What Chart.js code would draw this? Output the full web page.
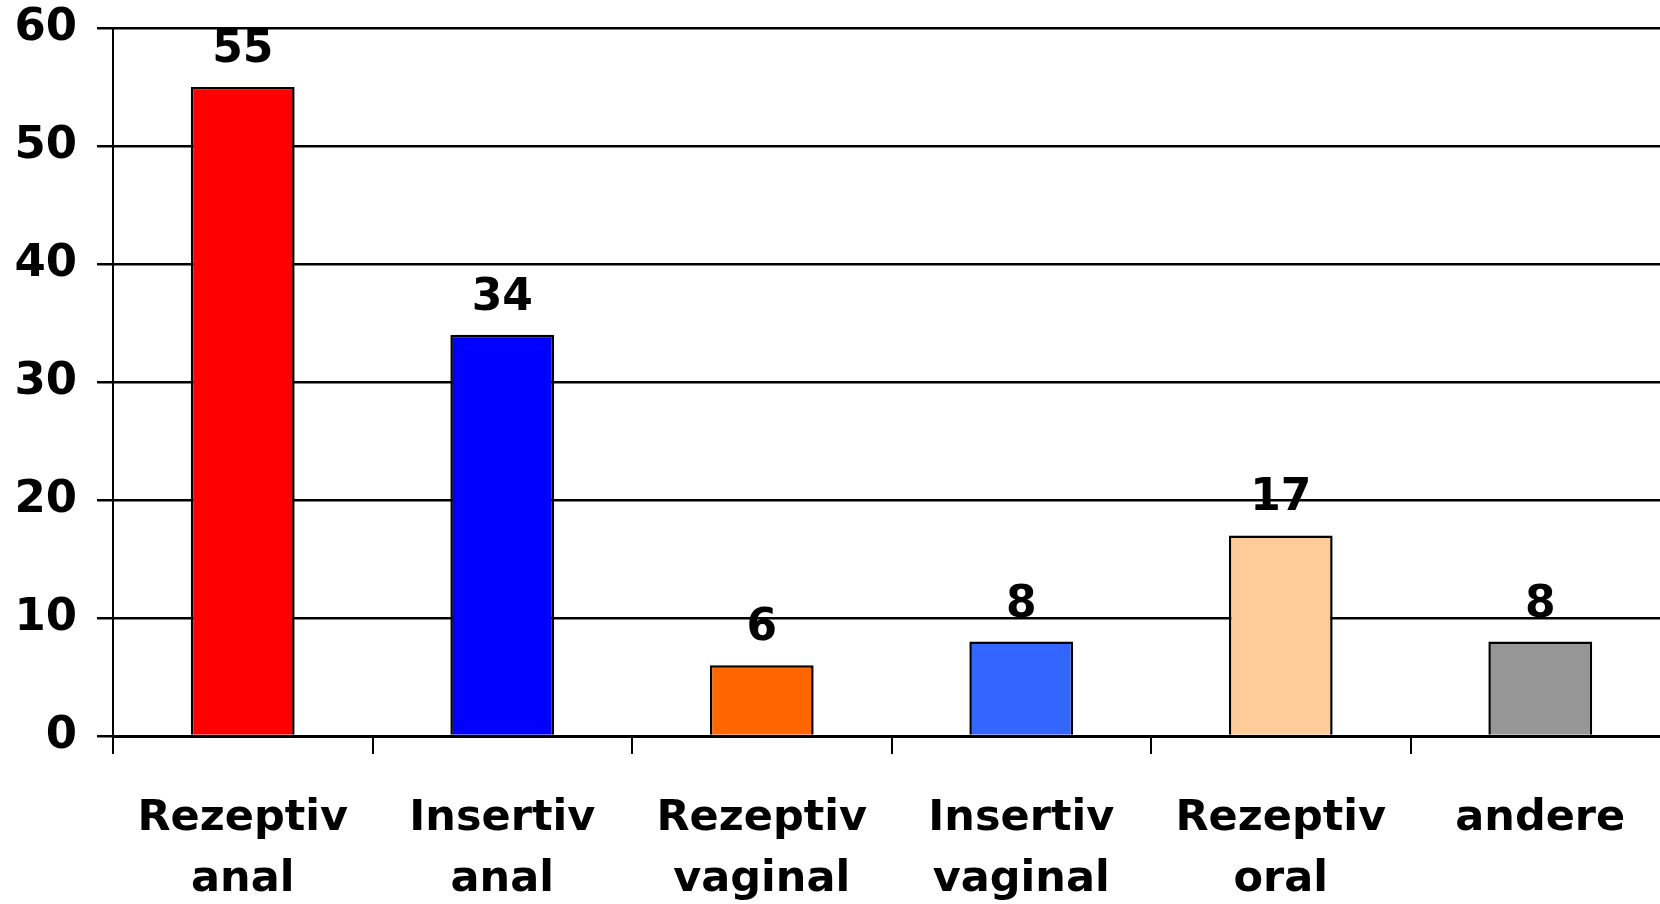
<!DOCTYPE html>
<html>
<head>
<meta charset="utf-8">
<script src="https://cdn.jsdelivr.net/npm/chart.js@4.4.0/dist/chart.umd.min.js"></script>
<style>
  html, body { margin: 0; padding: 0; background: #fff; overflow: hidden; width: 1660px; height: 904px; }
  #wrap { width: 1670px; height: 904px; }
  canvas { display: block; }
</style>
</head>
<body>
<div id="wrap"><canvas id="c" width="1670" height="904" style="width:1670px;height:904px"></canvas></div>
<script>
const categories = [
  ["Rezeptiv", "anal"],
  ["Insertiv", "anal"],
  ["Rezeptiv", "vaginal"],
  ["Insertiv", "vaginal"],
  ["Rezeptiv", "oral"],
  "andere"
];
const values = [55, 34, 6, 8, 17, 8];
const barColors = ["#FF0000", "#0000FF", "#FF6600", "#3366FF", "#FFCC99", "#969696"];
const yTicks = [0, 10, 20, 30, 40, 50, 60];

const FONT = "DejaVu Sans";

const valueLabels = {
  id: "valueLabels",
  afterDatasetsDraw(chart) {
    const ctx = chart.ctx;
    const meta = chart.getDatasetMeta(0);
    ctx.save();
    ctx.font = "bold 44px '" + FONT + "'";
    ctx.fillStyle = "#000";
    ctx.textAlign = "center";
    ctx.textBaseline = "alphabetic";
    meta.data.forEach((bar, i) => {
      ctx.fillText(String(values[i]), bar.x, bar.y - 25);
    });
    ctx.restore();
  }
};

new Chart(document.getElementById("c"), {
  type: "bar",
  data: {
    labels: categories,
    datasets: [{
      data: values,
      backgroundColor: barColors,
      borderColor: "#000",
      borderWidth: 2.5,
      categoryPercentage: 1.0,
      barPercentage: 0.4
    }]
  },
  options: {
    responsive: false,
    animation: false,
    devicePixelRatio: 1,
    layout: { padding: { top: 28, left: 0, right: 0, bottom: 0 } },
    plugins: { legend: { display: false }, tooltip: { enabled: false } },
    scales: {
      x: {
        grid: { display: true, drawOnChartArea: false, drawTicks: true, tickLength: 18, color: "#000", lineWidth: 2, offset: true },
        border: { display: true, color: "#000", width: 3 },
        ticks: {
          color: "#000",
          font: { family: FONT, size: 43, weight: "bold", lineHeight: 1.43 },
          padding: 34,
          maxRotation: 0,
          autoSkip: false
        },
        afterFit(scale) { scale.height = 168; scale.paddingLeft = 0; scale.paddingRight = 0; }
      },
      y: {
        min: 0,
        max: 60,
        afterBuildTicks(scale) { scale.ticks = yTicks.map(v => ({ value: v })); },
        grid: { color: "#000", lineWidth: 2.5, drawTicks: true, tickLength: 16 },
        border: { display: true, color: "#000", width: 2 },
        ticks: {
          color: "#000",
          font: { family: FONT, size: 45, weight: "bold" },
          padding: 20
        },
        afterFit(scale) { scale.width = 113; scale.paddingTop = 0; scale.paddingBottom = 0; }
      }
    }
  },
  plugins: [valueLabels]
});
</script>
</body>
</html>
